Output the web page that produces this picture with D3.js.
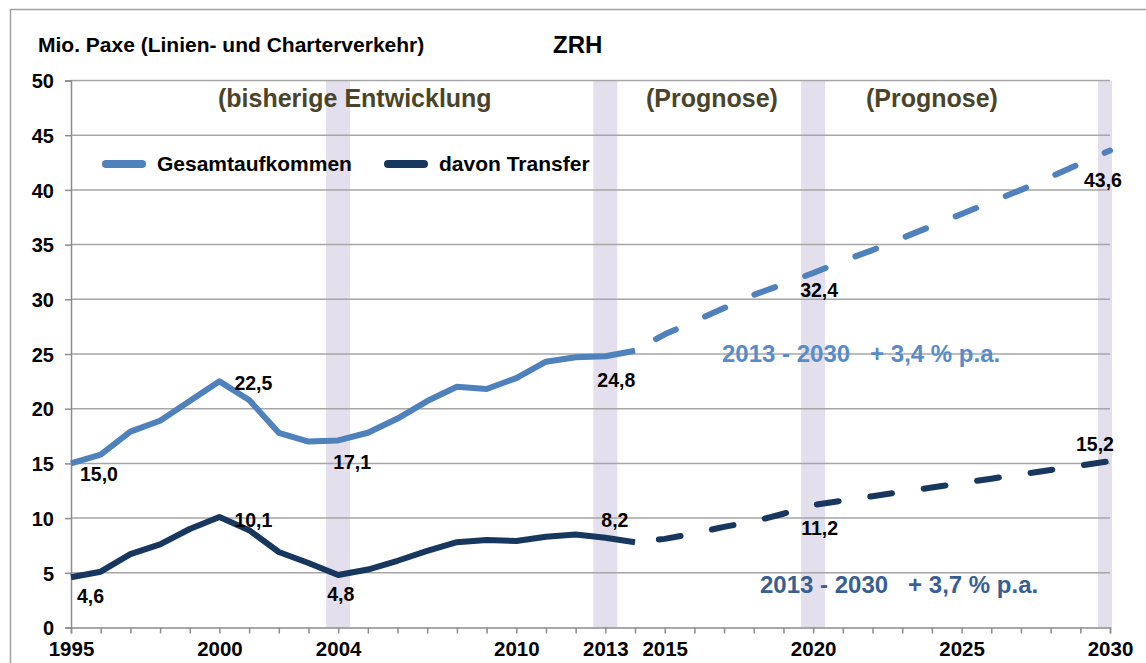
<!DOCTYPE html>
<html>
<head>
<meta charset="utf-8">
<script src="https://cdn.jsdelivr.net/npm/d3@7"></script>
<style>
  body { margin: 0; background: #fff; }
  text { font-family: "Liberation Sans", Arial, sans-serif; font-weight: bold; }
</style>
</head>
<body>
<script>
// Ist-Werte 1995-2014 (Mio. Paxe)
const histYears = d3.range(1995, 2015);
const gesamtHist = [15.0, 15.8, 17.9, 18.9, 20.7, 22.5, 20.8, 17.8, 17.0, 17.1,
                    17.8, 19.1, 20.7, 22.0, 21.8, 22.8, 24.3, 24.7, 24.8, 25.3];
const transferHist = [4.6, 5.1, 6.7, 7.6, 9.0, 10.1, 8.9, 6.9, 5.9, 4.8,
                      5.3, 6.1, 7.0, 7.8, 8.0, 7.9, 8.3, 8.5, 8.2, 7.8];

// Prognose 2014-2030
const progYears = d3.range(2014, 2031);
const gesamtProg = [25.3, 26.8, 28.0, 29.2, 30.4, 31.4, 32.4, 33.5, 34.5,
                    35.6, 36.7, 37.8, 38.9, 40.0, 41.2, 42.4, 43.6];
const transferProg = [7.8, 8.1, 8.6, 9.2, 9.7, 10.4, 11.2, 11.6, 12.0,
                      12.4, 12.8, 13.2, 13.6, 14.0, 14.4, 14.8, 15.2];

const xTickLabels = [1995, 2000, 2004, 2010, 2013, 2015, 2020, 2025, 2030];
const yTicks = [0, 5, 10, 15, 20, 25, 30, 35, 40, 45, 50];
const bandYears = [2004, 2013, 2020, 2030];

// Datenbeschriftungen: [Jahr, Wert, Text, dx, dy]
const gesamtLabels = [[1995, 15.0, "15,0", 9, 18], [2000, 22.5, "22,5", 15, 9],
                      [2004, 17.1, "17,1", -5, 29], [2013, 24.8, "24,8", -8, 31],
                      [2020, 32.4, "32,4", -13, 24], [2030, 43.6, "43,6", -26, 36]];
const transferLabels = [[1995, 4.6, "4,6", 6, 26], [2000, 10.1, "10,1", 15, 10],
                        [2004, 4.8, "4,8", -11, 26], [2013, 8.2, "8,2", -4, -11],
                        [2020, 11.2, "11,2", -12, 30], [2030, 15.2, "15,2", -34, -10]];

const W = 1146, H = 663;
const cLight = "#4f81bd", cDark = "#17375e";

const svg = d3.select("body").append("svg")
    .attr("width", W).attr("height", H);

svg.append("rect").attr("x", 10.5).attr("y", 9.5)
    .attr("width", 1160).attr("height", 700)
    .attr("fill", "#fff").attr("stroke", "#a0a0a0").attr("stroke-width", 1.5);

const x = d3.scaleLinear().domain([1995, 2030]).range([71, 1110]);
const y = d3.scaleLinear().domain([0, 50]).range([627.5, 80.5]);

// Bänder
svg.selectAll("rect.band").data(bandYears).enter().append("rect")
    .attr("class", "band")
    .attr("x", d => x(d) - 12)
    .attr("y", y(50))
    .attr("width", d => d === 2030 ? 14 : 24)
    .attr("height", y(0) - y(50))
    .attr("fill", "#e3dfec");

// Gitterlinien
svg.selectAll("line.grid").data(yTicks.filter(d => d > 0)).enter().append("line")
    .attr("x1", x(1995)).attr("x2", x(2030))
    .attr("y1", d => y(d)).attr("y2", d => y(d))
    .attr("stroke", "#a6a6a6").attr("stroke-width", 1.5);

// y-Achse
const yAxis = d3.axisLeft(y).tickValues(yTicks).tickSize(6).tickFormat(d3.format("d"));
const gy = svg.append("g").attr("transform", `translate(${x(1995)},0)`).call(yAxis);
gy.select(".domain").attr("stroke", "#8c8c8c").attr("stroke-width", 1.5);
gy.selectAll(".tick line").attr("stroke", "#8c8c8c").attr("stroke-width", 1.5);
gy.selectAll(".tick text").attr("font-size", 20).attr("fill", "#000")
    .attr("x", -17).attr("dy", "0.36em")
    .style("font-family", "Liberation Sans, Arial, sans-serif").style("font-weight", "bold");

// x-Achse
const xAxis = d3.axisBottom(x).tickValues(d3.range(1995, 2031)).tickSize(6)
    .tickFormat(d => xTickLabels.includes(d) ? d : "");
const gx = svg.append("g").attr("transform", `translate(0,${y(0)})`).call(xAxis);
gx.select(".domain").attr("stroke", "#8c8c8c").attr("stroke-width", 1.5);
gx.selectAll(".tick line").attr("stroke", "#8c8c8c").attr("stroke-width", 1.5);
gx.selectAll(".tick text").attr("font-size", 20.5).attr("fill", "#000")
    .attr("y", 14).attr("dy", "0.71em")
    .style("font-family", "Liberation Sans, Arial, sans-serif").style("font-weight", "bold");

// Linien
const line = d3.line().x(d => x(d[0])).y(d => y(d[1]));

function drawSeries(years, vals, color, dashed) {
  const p = svg.append("path")
      .datum(years.map((yr, i) => [yr, vals[i]]))
      .attr("d", line)
      .attr("fill", "none")
      .attr("stroke", color)
      .attr("stroke-width", 6)
      .attr("stroke-linejoin", "round")
      .attr("stroke-linecap", dashed ? "round" : "butt");
  if (dashed) p.attr("stroke-dasharray", "22,32").attr("stroke-dashoffset", 30);
}
drawSeries(histYears, gesamtHist, cLight, false);
drawSeries(progYears, gesamtProg, cLight, true);
drawSeries(histYears, transferHist, cDark, false);
drawSeries(progYears, transferProg, cDark, true);

// Datenbeschriftungen
svg.selectAll("text.lbl").data(gesamtLabels.concat(transferLabels)).enter().append("text")
    .attr("class", "lbl")
    .attr("x", d => x(d[0]) + d[3])
    .attr("y", d => y(d[1]) + d[4])
    .attr("font-size", 19.5)
    .attr("fill", "#000")
    .text(d => d[2]);

// Titel
svg.append("text").attr("x", 38).attr("y", 52).attr("font-size", 21)
    .attr("fill", "#000").text("Mio. Paxe (Linien- und Charterverkehr)");
svg.append("text").attr("x", 553).attr("y", 53).attr("font-size", 24)
    .attr("fill", "#000").text("ZRH");

// Periodenbeschriftungen
const periodColor = "#4a452a";
svg.append("text").attr("x", 218).attr("y", 107).attr("font-size", 25)
    .attr("fill", periodColor).text("(bisherige Entwicklung");
svg.append("text").attr("x", 646).attr("y", 107).attr("font-size", 25)
    .attr("fill", periodColor).text("(Prognose)");
svg.append("text").attr("x", 866).attr("y", 107).attr("font-size", 25)
    .attr("fill", periodColor).text("(Prognose)");

// Legende
const legend = [["Gesamtaufkommen", cLight, 106], ["davon Transfer", cDark, 388]];
legend.forEach(([name, color, lx]) => {
  svg.append("line").attr("x1", lx).attr("x2", lx + 36)
      .attr("y1", 164).attr("y2", 164)
      .attr("stroke", color).attr("stroke-width", 8).attr("stroke-linecap", "round");
  svg.append("text").attr("x", lx + 51).attr("y", 171).attr("font-size", 21)
      .attr("fill", "#000").text(name);
});

// Wachstumsraten
svg.append("text").attr("x", 722).attr("y", 362).attr("font-size", 24)
    .attr("fill", "#5a8bc9").style("white-space", "pre")
    .text("2013 - 2030   + 3,4 % p.a.");
svg.append("text").attr("x", 760).attr("y", 593).attr("font-size", 24)
    .attr("fill", "#385f94").style("white-space", "pre")
    .text("2013 - 2030   + 3,7 % p.a.");
</script>
</body>
</html>
